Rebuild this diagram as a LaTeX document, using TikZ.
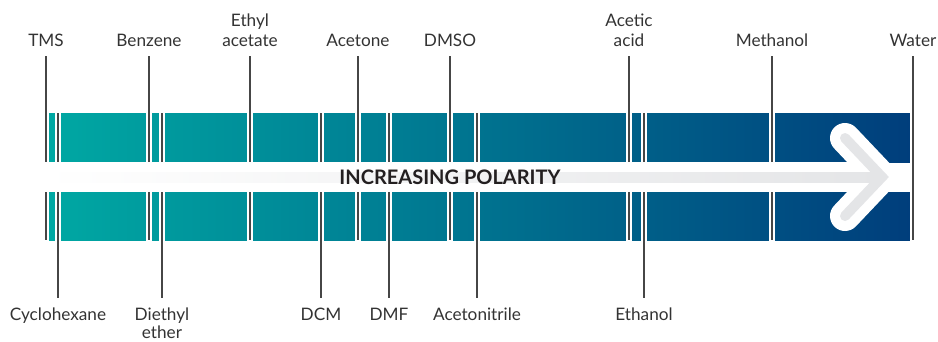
\documentclass[tikz,border=0pt]{standalone}
\usepackage{fontspec}
\setmainfont{Lato}
\definecolor{tealL}{RGB}{0,168,163}
\definecolor{navyR}{RGB}{0,62,124}
\definecolor{markc}{RGB}{70,70,70}
\definecolor{txtc}{RGB}{51,51,51}
\definecolor{arrg}{RGB}{228,229,231}
\definecolor{titc}{RGB}{35,31,32}
\begin{document}
\begin{tikzpicture}[x=1pt,y=-1pt,
  lbl/.style={font=\fontsize{17.2}{20}\selectfont, text=txtc, inner sep=0pt, anchor=base, align=center},
  markline/.style={draw=markc, line width=1.8pt},
  gapline/.style={draw=white, line width=6.5pt},
  barshade/.style={left color=tealL, right color=navyR}]
\useasboundingbox (0,0) rectangle (938,341);
% bars
\shade[barshade] (49,113) rectangle (910,162);
\shade[barshade] (49,192) rectangle (910,240);
% markers from the top
\foreach \n/\x/\t in {tms/46/TMS, benz/149/Benzene, etac/250/Ethyl\\acetate,
    acet/358/Acetone, dmso/450/DMSO, acac/629/Acetic\\acid,
    meoh/772/Methanol, water/913/Water} {
  \node[lbl] (\n) at (\x,46.7) {\t};
  \coordinate (\n-a) at (\x,56);
  \coordinate (\n-b) at (\x,240);
  \coordinate (\n-g1) at (\x,110);
  \coordinate (\n-g2) at (\x,243);
  \draw[gapline] (\n-g1) -- (\n-g2);
  \draw[markline] (\n-a) -- (\n-b);
}
% markers from the bottom
\foreach \n/\x/\y/\t in {cyhx/58/320/Cyclohexane, deth/162/338.5/Diethyl\\[-1.5pt]ether, dcm/321/320/DCM,
    dmf/389/320/DMF, acn/477/320/Acetonitrile, etoh/644/320/Ethanol} {
  \node[lbl] (\n) at (\x,\y) {\t};
  \coordinate (\n-a) at (\x,113);
  \coordinate (\n-b) at (\x,298);
  \coordinate (\n-g1) at (\x,110);
  \coordinate (\n-g2) at (\x,243);
  \draw[gapline] (\n-g1) -- (\n-g2);
  \draw[markline] (\n-a) -- (\n-b);
}
% arrow
\coordinate (shaftL) at (30,177);
\coordinate (tip) at (882,177);
\coordinate (armU) at (845,138);
\coordinate (armD) at (845,216);
\draw[white, line width=30pt] (shaftL) -- (tip);
\draw[white, line width=30pt, line cap=round, line join=miter] (armU) -- (tip) -- (armD);
\shade[left color=white, right color=arrg] (43,172) rectangle (882,182);
\draw[arrg, line width=10pt, line cap=round, line join=miter] (armU) -- (tip) -- (armD);
\node[font=\fontsize{20}{22}\selectfont\bfseries, text=titc, anchor=base, inner sep=0pt] (title) at (450,184.5) {INCREASING POLARITY};
\end{tikzpicture}
\end{document}
